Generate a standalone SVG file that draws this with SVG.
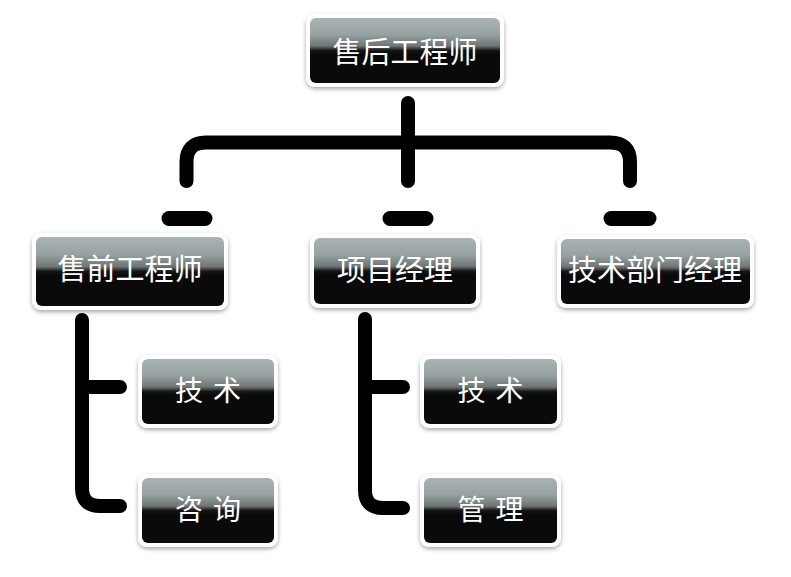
<svg xmlns="http://www.w3.org/2000/svg" width="791" height="577" viewBox="0 0 791 577">
  <defs>
    <linearGradient id="gloss" x1="0" y1="0" x2="0" y2="1">
      <stop offset="0" stop-color="#a9b3b4"/>
      <stop offset="0.25" stop-color="#98a2a2"/>
      <stop offset="0.43" stop-color="#6e7675"/>
      <stop offset="0.5" stop-color="#151515"/>
      <stop offset="0.56" stop-color="#0a0a0a"/>
      <stop offset="1" stop-color="#0a0a0a"/>
    </linearGradient>
    <filter id="shadow" x="-10%" y="-10%" width="120%" height="130%">
      <feDropShadow dx="0" dy="2" stdDeviation="2" flood-color="#000" flood-opacity="0.35"/>
    </filter>
  </defs>
  <style>
    .frame { fill: #ffffff; filter: url(#shadow); }
    .face { fill: url(#gloss); }
    .label { fill: #ffffff; font-family: "Noto Sans CJK SC", "Noto Sans", sans-serif; font-size: 29px; text-anchor: middle; }
    .small { font-size: 28px; letter-spacing: 10px; }
    .conn { fill: none; stroke: #000000; stroke-width: 14; stroke-linecap: round; stroke-linejoin: round; }
    .dash { stroke: #000000; stroke-width: 15; stroke-linecap: round; }
  </style>
  <rect width="791" height="577" fill="#ffffff"/>

  <g id="connectors">
    <path class="conn" d="M408,103 V181"/>
    <path class="conn" d="M186.5,181 V162 Q186.5,142.5 206,142.5 H610 Q630,142.5 630,162 V181"/>
    <line class="dash" x1="169" y1="218.5" x2="205" y2="218.5"/>
    <line class="dash" x1="390" y1="218.5" x2="426" y2="218.5"/>
    <line class="dash" x1="611" y1="218.5" x2="649" y2="218.5"/>
    <path class="conn" d="M82,320 V488 Q82,506 100,506 H120"/>
    <path class="conn" d="M82,387 H120"/>
    <path class="conn" d="M365,319 V490 Q365,508 383,508 H403"/>
    <path class="conn" d="M365,387 H403"/>
  </g>

  <g id="node-shouhou">
    <rect class="frame" x="306" y="14" width="198" height="73" rx="9"/>
    <rect class="face" x="310" y="18" width="190" height="65" rx="6"/>
    <text class="label" x="405" y="62.5">售后工程师</text>
  </g>

  <g id="node-shouqian">
    <rect class="frame" x="32" y="233" width="196" height="77" rx="9"/>
    <rect class="face" x="36" y="237" width="188" height="69" rx="6"/>
    <text class="label" x="130" y="280">售前工程师</text>
  </g>

  <g id="node-xiangmu">
    <rect class="frame" x="310" y="234" width="170" height="74" rx="9"/>
    <rect class="face" x="314" y="238" width="162" height="66" rx="6"/>
    <text class="label" x="395" y="280.5">项目经理</text>
  </g>

  <g id="node-jishubumen">
    <rect class="frame" x="557" y="235" width="197" height="73" rx="9"/>
    <rect class="face" x="561" y="239" width="189" height="65" rx="6"/>
    <text class="label" x="655" y="281">技术部门经理</text>
  </g>

  <g id="node-jishu-1">
    <rect class="frame" x="138" y="355" width="140" height="73" rx="9"/>
    <rect class="face" x="142" y="359" width="132" height="65" rx="6"/>
    <text class="label small" x="213" y="401">技术</text>
  </g>

  <g id="node-zixun">
    <rect class="frame" x="138" y="474" width="140" height="73" rx="9"/>
    <rect class="face" x="142" y="478" width="132" height="65" rx="6"/>
    <text class="label small" x="213" y="519.5">咨询</text>
  </g>

  <g id="node-jishu-2">
    <rect class="frame" x="420" y="355" width="141" height="73" rx="9"/>
    <rect class="face" x="424" y="359" width="133" height="65" rx="6"/>
    <text class="label small" x="495.5" y="401">技术</text>
  </g>

  <g id="node-guanli">
    <rect class="frame" x="420" y="474" width="141" height="73" rx="9"/>
    <rect class="face" x="424" y="478" width="133" height="65" rx="6"/>
    <text class="label small" x="495.5" y="519.5">管理</text>
  </g>
</svg>
